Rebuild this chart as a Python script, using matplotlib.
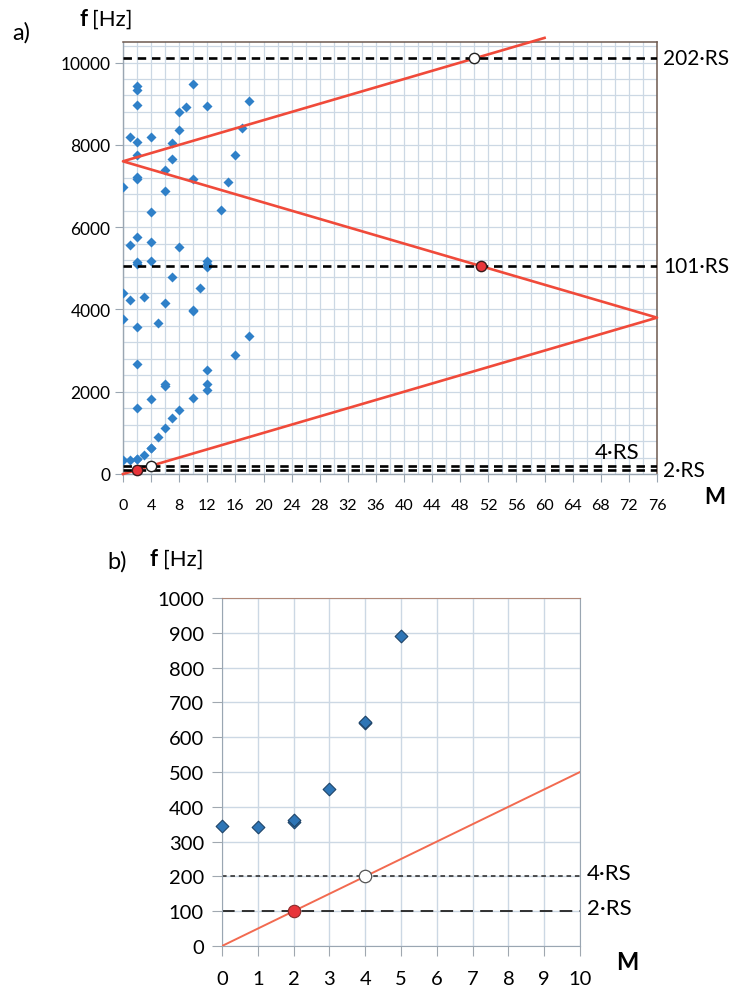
import matplotlib
matplotlib.use('Agg')
import matplotlib.pyplot as plt
import numpy as np

plt.rcParams['font.family'] = ['Lato', 'DejaVu Sans']

W, H = 735, 995

# ── measured spectral components (order M vs frequency) ──
meas_m = [0, 0, 0, 0,
          1, 1, 1, 1,
          2, 2, 2, 2, 2, 2, 2, 2, 2, 2, 2, 2, 2, 2, 2,
          3, 3,
          4, 4, 4, 4, 4, 4, 4,
          5, 5,
          6, 6, 6, 6, 6, 6,
          7, 7, 7, 7,
          8, 8, 8, 8,
          9,
          10, 10, 10, 10, 10,
          11,
          12, 12, 12, 12, 12, 12, 12,
          14, 15, 16, 16, 17, 18, 18]
meas_f = [6970, 4400, 3770, 345,
          8190, 5570, 4240, 343,
          9420, 9340, 8970, 8070, 7760, 7220, 7160, 5760, 5160, 5100, 3570, 2680, 1610, 355, 362,
          4310, 452,
          8180, 6370, 5650, 5170, 1830, 640, 643,
          3660, 890,
          7380, 6880, 4160, 2190, 2150, 1120,
          8050, 7660, 4800, 1370,
          8800, 8350, 5520, 1550,
          8920,
          9490, 7160, 3990, 3950, 1840,
          4510,
          8950, 5170, 5100, 5040, 2530, 2190, 2030,
          6410, 7100, 7760, 2890, 8420, 9070, 3360]

# zoomed view (panel b)
low_m = [0, 1, 2, 2, 3, 4, 4, 5]
low_f = [345, 343, 355, 362, 452, 640, 643, 890]

# folded line f = RS*M, reflected at 3800 Hz
RS = 50
fold_m = [60, 0, 76, 0]
fold_f = [10600, 7600, 3800, 0]

# reference harmonics
harm_k = [202, 101, 4, 2]
harm_lbl = ['202·RS', '101·RS', '4·RS', '2·RS']

# crossing markers
red_pts_m, red_pts_f = [2, 51], [100, 5050]
white_pts_m, white_pts_f = [4, 50], [200, 10100]

blue = '#2F80C8'
red = '#F04A3A'
grid_c = '#CCD8E4'


def ax_rect(l, t, r, b):
    return [l / W, 1 - b / H, (r - l) / W, (b - t) / H]


def ftext(x, y, s, **kw):
    fig.text(x / W, 1 - y / H, s, **kw)


fig = plt.figure(figsize=(W / 100, H / 100), dpi=100)

# ───────────── panel a ─────────────
ax1 = fig.add_axes(ax_rect(123, 43, 657, 475))
ax1.set_xlim(0, 76)
ax1.set_ylim(0, 10500)
ax1.set_xticks(np.arange(0, 77, 4))
ax1.set_xticks(np.arange(0, 77, 2), minor=True)
ax1.set_yticks(np.arange(0, 10001, 2000))
ax1.set_yticks(np.arange(0, 10401, 400), minor=True)
ax1.grid(True, which='both', color=grid_c, lw=0.9)
ax1.set_axisbelow(True)
ax1.tick_params(axis='x', which='major', direction='out', length=6, color='#9AA6B2',
                labelsize=11.5, pad=11)
ax1.tick_params(axis='x', which='minor', length=0)
ax1.tick_params(axis='y', which='major', direction='out', length=6, color='#9AA6B2',
                labelsize=12.5, pad=3)
ax1.tick_params(axis='y', which='minor', length=0)
for s in ['top', 'right']:
    ax1.spines[s].set_color('#6E5A50')
    ax1.spines[s].set_linewidth(1.1)
for s in ['left', 'bottom']:
    ax1.spines[s].set_color('#9AA6B2')
    ax1.spines[s].set_linewidth(1.0)

ax1.scatter(meas_m, meas_f, marker='D', s=26, color=blue, linewidths=0, zorder=3)
ax1.plot(fold_m, fold_f, color=red, lw=1.9, zorder=4, clip_on=False)

for k, lbl in zip(harm_k, harm_lbl):
    f = k * RS
    ax1.axhline(f, color='black', lw=1.9, ls=(0, (3.2, 2.2)), zorder=5)
    if k == 4:
        ax1.text(73.5, f + 90, lbl, ha='right', va='bottom', fontsize=16)
    else:
        ax1.text(1.012, f, lbl, transform=ax1.get_yaxis_transform(),
                 ha='left', va='center', fontsize=15)

ax1.scatter(red_pts_m, red_pts_f, s=55, color='#E8343A', edgecolors='#3A1A1A',
            linewidths=1.0, zorder=6, clip_on=False)
ax1.scatter(white_pts_m, white_pts_f, s=55, color='white', edgecolors='#222222',
            linewidths=1.0, zorder=6, clip_on=False)

ftext(12, 33, 'a)', fontsize=17, ha='left', va='center')
ftext(79, 20, 'f', fontsize=16, fontweight='bold', ha='left', va='center')
ftext(92, 20, '[Hz]', fontsize=16, ha='left', va='center')
ftext(715, 498, 'M', fontsize=16, fontweight='bold', ha='center', va='center')

# ───────────── panel b ─────────────
ax2 = fig.add_axes(ax_rect(222, 599, 580, 947))
ax2.set_xlim(0, 10)
ax2.set_ylim(0, 1000)
ax2.set_xticks(np.arange(0, 11, 1))
ax2.set_yticks(np.arange(0, 1001, 100))
ax2.grid(True, color=grid_c, lw=1.0)
ax2.set_axisbelow(True)
ax2.tick_params(axis='x', direction='out', length=7, color='#A0A8B0', labelsize=14.5, pad=10)
ax2.tick_params(axis='y', direction='out', length=7, color='#A0A8B0', labelsize=14.5, pad=6)
ax2.spines['top'].set_color('#B08878')
for s in ['left', 'bottom', 'right']:
    ax2.spines[s].set_color('#9AA6B2')

ax2.scatter(low_m, low_f, marker='D', s=42, color='#2E75B6', edgecolors='#1F4468',
            linewidths=0.8, zorder=4, clip_on=False)
ax2.plot([0, 10], [0, 10 * RS], color='#F26A50', lw=1.4, zorder=3)

ax2.axhline(4 * RS, color='#222222', lw=1.1, ls=(0, (3, 2.5)), zorder=2)
ax2.axhline(2 * RS, color='#222222', lw=1.3, ls=(0, (7, 4)), zorder=2)
ax2.text(1.02, 4 * RS + 10, '4·RS', transform=ax2.get_yaxis_transform(),
         ha='left', va='center', fontsize=16)
ax2.text(1.02, 2 * RS + 10, '2·RS', transform=ax2.get_yaxis_transform(),
         ha='left', va='center', fontsize=16)

ax2.scatter([2], [2 * RS], s=80, color='#E8343A', edgecolors='#8A2A2A', linewidths=0.8,
            zorder=5, clip_on=False)
ax2.scatter([4], [4 * RS], s=80, color='white', edgecolors='#555555', linewidths=0.9,
            zorder=5, clip_on=False)

ftext(107, 562, 'b)', fontsize=17, ha='left', va='center')
ftext(150, 560, 'f', fontsize=16, fontweight='bold', ha='left', va='center')
ftext(163, 560, '[Hz]', fontsize=16, ha='left', va='center')
ftext(627, 963, 'M', fontsize=17, fontweight='bold', ha='center', va='center')

fig.savefig('out.png', dpi=100, facecolor='white')
plt.close(fig)
